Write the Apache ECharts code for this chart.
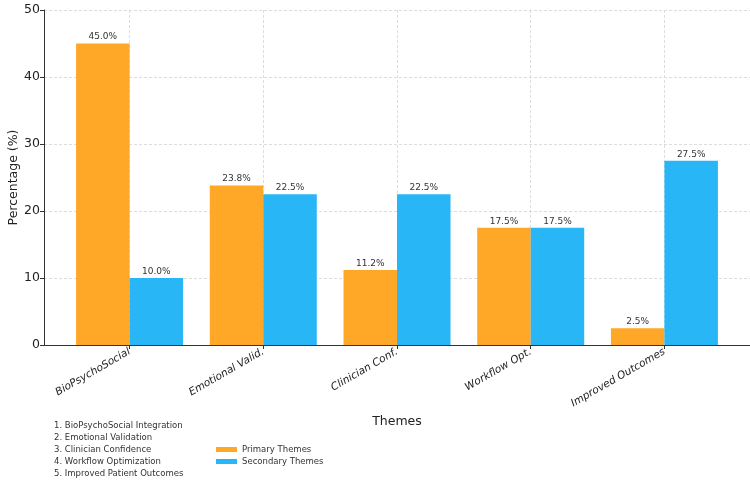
<!DOCTYPE html>
<html>
<head>
<meta charset="utf-8">
<script src="https://cdn.jsdelivr.net/npm/echarts@6/dist/echarts.min.js"></script>
<style>
  html, body { margin: 0; padding: 0; background: #fff; }
  #chart { width: 750px; height: 488px; }
</style>
</head>
<body>
<div id="chart"></div>
<script>
// veriler
const categories = ["BioPsychoSocial", "Emotional Valid.", "Clinician Conf.", "Workflow Opt.", "Improved Outcomes"];
const primaryValues = [45.0, 23.8, 11.2, 17.5, 2.5];
const secondaryValues = [10.0, 22.5, 22.5, 17.5, 27.5];
const yTicks = [0, 10, 20, 30, 40, 50];
const notes = [
  "1. BioPsychoSocial Integration",
  "2. Emotional Validation",
  "3. Clinician Confidence",
  "4. Workflow Optimization",
  "5. Improved Patient Outcomes",
];

const FONT = "DejaVu Sans";
const COLORS = { primary: "#FFA726", secondary: "#29B6F6" };
const gridLine = { show: true, lineStyle: { color: "#d4d4d4", type: [3, 2], width: 0.8 } };
const idx = categories.map((_, i) => i);

const chart = echarts.init(document.getElementById("chart"));

function barLabel() {
  return {
    show: true,
    position: "top",
    distance: 2,
    fontFamily: FONT,
    fontSize: 9,
    color: "#333",
    formatter: (p) => p.value[1].toFixed(1) + "%",
  };
}

chart.setOption({
  animation: false,
  textStyle: { fontFamily: FONT },
  grid: { left: 44, right: 0, top: 10, bottom: 143, containLabel: false, outerBoundsMode: "none" },
  legend: {
    orient: "vertical",
    left: 211,
    top: 440,
    itemWidth: 21,
    itemHeight: 5,
    itemGap: 3,
    icon: "rect",
    textStyle: { fontFamily: FONT, fontSize: 8.5, color: "#333" },
    data: ["Primary Themes", "Secondary Themes"],
  },
  graphic: [
    {
      type: "text",
      left: 54,
      top: 420,
      style: {
        text: notes.join("\n"),
        font: `8.5px "${FONT}"`,
        lineHeight: 12,
        fill: "#333",
      },
    },
  ],
  xAxis: {
    type: "value",
    min: -0.64,
    max: 4.64,
    name: "Themes",
    nameLocation: "middle",
    nameGap: 70,
    nameMoveOverlap: false,
    nameTextStyle: { fontFamily: FONT, fontSize: 12.5, color: "#222" },
    axisLine: { show: true, onZero: false, lineStyle: { color: "#333", width: 1 } },
    axisTick: { show: true, customValues: idx, length: 4, lineStyle: { color: "#333" } },
    axisLabel: {
      customValues: idx,
      rotate: 30,
      margin: 6,
      fontStyle: "italic",
      fontFamily: FONT,
      fontSize: 10.5,
      color: "#222",
      formatter: (v) => categories[Math.round(v)] || "",
    },
    splitLine: gridLine,
  },
  yAxis: {
    type: "value",
    min: yTicks[0],
    max: yTicks[yTicks.length - 1],
    interval: 10,
    name: "Percentage (%)",
    nameLocation: "middle",
    nameGap: 24,
    nameMoveOverlap: false,
    nameTextStyle: { fontFamily: FONT, fontSize: 12.5, color: "#222" },
    axisLine: { show: true, onZero: false, lineStyle: { color: "#333", width: 1 } },
    axisTick: { show: true, length: 4, lineStyle: { color: "#333" } },
    axisLabel: { fontFamily: FONT, fontSize: 12.5, color: "#222", margin: 4 },
    splitLine: gridLine,
  },
  series: [
    {
      name: "Primary Themes",
      type: "bar",
      data: primaryValues.map((v, i) => [i, v]),
      barWidth: 53.5,
      barGap: "0%",
      itemStyle: { color: COLORS.primary },
      label: barLabel(),
    },
    {
      name: "Secondary Themes",
      type: "bar",
      data: secondaryValues.map((v, i) => [i, v]),
      barWidth: 53.5,
      barGap: "0%",
      itemStyle: { color: COLORS.secondary },
      label: barLabel(),
    },
  ],
});
</script>
</body>
</html>
